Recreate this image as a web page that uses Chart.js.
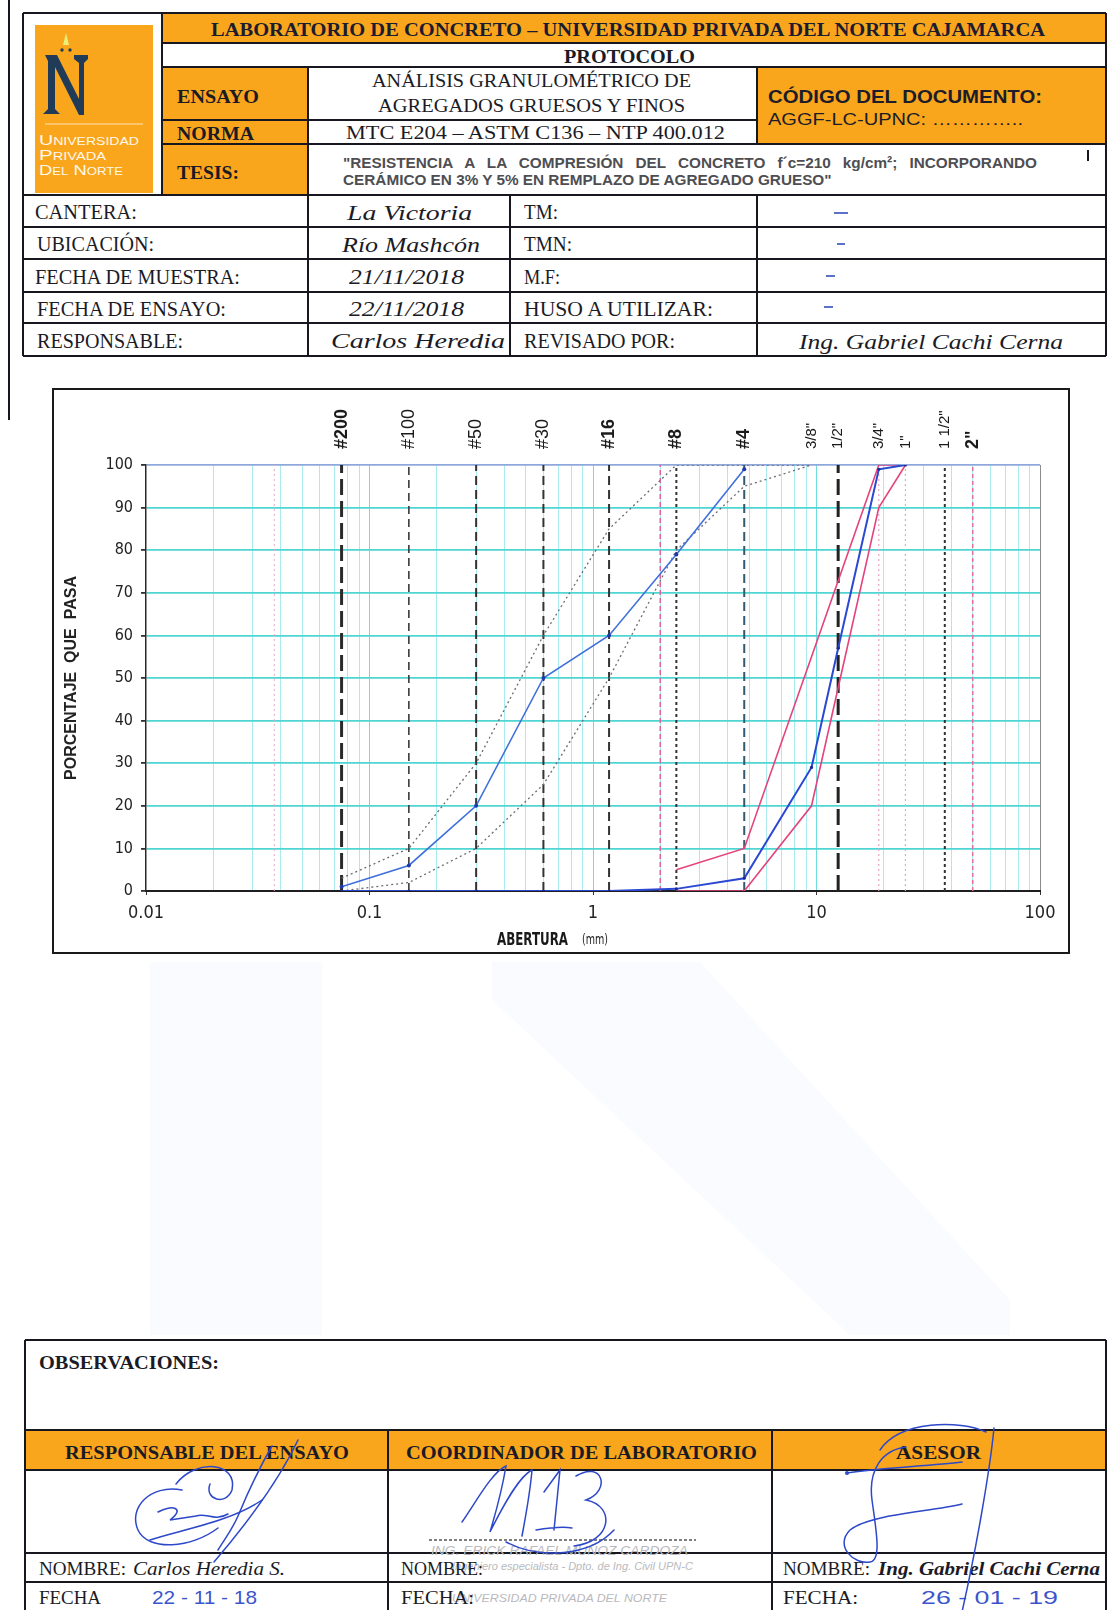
<!DOCTYPE html>
<html>
<head>
<meta charset="utf-8">
<title>Análisis granulométrico – Protocolo</title>
<script src="https://cdn.jsdelivr.net/npm/chart.js@4.4.1/dist/chart.umd.min.js"></script>
<style>
  html, body { margin: 0; padding: 0; background: #fff; }
  #page { position: relative; width: 1110px; height: 1610px; overflow: hidden; background: #fff; }
  .t { position: absolute; white-space: nowrap; line-height: 1; transform-origin: 0 50%; }
  .ln { position: absolute; background: #17171f; }
  .fill { position: absolute; }
  #marco { position: absolute; left: 52px; top: 388px; width: 1018px; height: 566px; box-sizing: border-box; border: 2.5px solid #1a1a1a; }
  #grafico { position: absolute; left: 54px; top: 390px; }
  .just { position: absolute; white-space: nowrap; text-align: justify; text-align-last: justify; line-height: 1; overflow: visible; }
</style>
</head>
<body>
<div id="page">
  <svg id="marcaAgua" width="1110" height="1610" style="position:absolute;left:0;top:0">
    <polygon points="150,962 322,962 322,1335 150,1335" fill="#f9fbfe"/>
    <polygon points="492,962 700,962 1010,1300 1010,1335 850,1335 492,1000" fill="#f9fbfe"/>
  </svg>
  <div id="marco"></div>
  <canvas id="grafico" width="1014" height="561"></canvas>
</div>
<script>
// ---- Curva granulométrica: aberturas de tamiz (mm) y % que pasa ----
const aberturas     = [0.075, 0.15, 0.3, 0.6, 1.18, 2.36, 4.75, 9.5, 12.5, 19, 25];
const pasaFino      = [1, 6, 20, 50, 60, 79, 99, null, null, null, null];
const pasaGrueso    = [0, 0, 0, 0, 0, 0.5, 3, 29, 57, 99, 100];
const finoLimSup    = [3, 10, 30, 60, 85, 100, 100, 100, null, null, null];
const finoLimInf    = [0, 2, 10, 25, 50, 80, 95, 100, null, null, null];
const gruesoLimSup  = [null, null, null, null, null, 5, 10, 55, null, 100, 100];
const gruesoLimInf  = [null, null, null, null, null, 0, 0, 20, null, 90, 100];

// Tamices rotulados en la parte superior
const tamices  = ['#200', '#100', '#50', '#30', '#16', '#8', '#4', '3/8"', '1/2"', '3/4"', '1"', '1 1/2"', '2"'];
const tamizMm  = [0.075, 0.15, 0.3, 0.6, 1.18, 2.36, 4.75, 9.5, 12.5, 19, 25, 37.5, 50];

// Líneas verticales de referencia (mm)
const lineasRefMm = [0.0375, 0.075, 0.15, 0.3, 0.6, 1.18, 2.0, 2.36, 4.75, 12.5, 19, 25, 37.5, 50];

// Etiquetas de los ejes
const ejeXEtiquetas = [0.01, 0.1, 1, 10, 100];
const ejeYEtiquetas = [0, 10, 20, 30, 40, 50, 60, 70, 80, 90, 100];
const tituloEjeY = 'PORCENTAJE  QUE  PASA';

// ---------------- Documento ----------------
const page = document.getElementById('page');
const INK = '#1b1b26';
const SERIF = "'Liberation Serif', 'Times New Roman', serif";
const SANS = "'Liberation Sans', Arial, sans-serif";
const NARROW = "'Liberation Sans Narrow', 'Arial Narrow', 'DejaVu Sans Condensed', sans-serif";
const ORANGE = '#F9A61C';

function fill(x, y, w, h, c) {
  const d = document.createElement('div');
  d.className = 'fill';
  Object.assign(d.style, { left: x + 'px', top: y + 'px', width: w + 'px', height: h + 'px', background: c });
  page.insertBefore(d, document.getElementById('marco'));
}
function hl(x1, x2, y, w = 2) {
  const d = document.createElement('div');
  d.className = 'ln';
  Object.assign(d.style, { left: x1 + 'px', top: (y - w / 2) + 'px', width: (x2 - x1) + 'px', height: w + 'px' });
  page.appendChild(d);
}
function vl(x, y1, y2, w = 2) {
  const d = document.createElement('div');
  d.className = 'ln';
  Object.assign(d.style, { left: (x - w / 2) + 'px', top: y1 + 'px', width: w + 'px', height: (y2 - y1) + 'px' });
  page.appendChild(d);
}
function txt(s, o) {
  const el = document.createElement('div');
  el.className = 't';
  el.textContent = s;
  el.style.font = o.font;
  el.style.color = o.color || INK;
  page.appendChild(el);
  const nat = el.getBoundingClientRect().width;
  const size = parseFloat(o.font.match(/(\d+(?:\.\d+)?)px/)[1]);
  const sx = o.w ? o.w / nat : 1;
  const w = nat * sx;
  const left = (o.cx !== undefined) ? o.cx - w / 2 : o.x;
  el.style.left = left + 'px';
  el.style.top = (o.cy - size / 2) + 'px';
  if (Math.abs(sx - 1) > 0.002) el.style.transform = 'scaleX(' + sx.toFixed(4) + ')';
  return el;
}

// Fondos naranjas
fill(162, 13, 944, 30, ORANGE);
fill(162, 67, 146, 128, ORANGE);
fill(757, 67, 349, 77, ORANGE);
fill(25, 1430, 1081, 40, ORANGE);

// Borde del papel a la izquierda
vl(9, 0, 420, 2.5);

// Cuadro de cabecera
hl(23, 1106, 13, 2.5); hl(23, 1106, 356, 2.5);
vl(23, 13, 356, 2.5); vl(1106, 13, 356, 2.5);
hl(162, 1106, 43); hl(162, 1106, 67); hl(162, 757, 120); hl(162, 1106, 144);
hl(23, 1106, 195); hl(23, 1106, 227); hl(23, 1106, 259); hl(23, 1106, 292); hl(23, 1106, 323);
vl(162, 13, 195); vl(308, 67, 356); vl(757, 67, 144); vl(757, 195, 356); vl(510, 195, 356);

// Logotipo
const logo = document.createElementNS('http://www.w3.org/2000/svg', 'svg');
logo.setAttribute('width', '118'); logo.setAttribute('height', '168');
logo.style.position = 'absolute'; logo.style.left = '35px'; logo.style.top = '25px';
logo.innerHTML =
  '<rect width="118" height="168" fill="' + ORANGE + '"/>' +
  '<polygon points="31,8 34,20 28,20" fill="#e8f07a"/>' +
  '<circle cx="27" cy="25" r="1.7" fill="#1f3b57"/><circle cx="35" cy="25" r="1.7" fill="#1f3b57"/>' +
  '<path d="M10,30 L22,30 L44,74 L44,38 L39,34 L39,30 L53,30 L53,34 L49,38 L49,90 L44,90 L20,42 L20,84 L25,89 L8,89 L13,84 L13,36 Z" fill="#1f3b57"/>' +
  '<line x1="10" y1="99" x2="108" y2="99" stroke="#fde3b4" stroke-width="1"/>';
page.appendChild(logo);
const fLogo = "small-caps 14px " + SANS;
txt('Universidad', { x: 39, cy: 139, w: 100, font: fLogo, color: '#fff8ec' });
txt('Privada', { x: 39, cy: 154, w: 67, font: fLogo, color: '#fff8ec' });
txt('Del Norte', { x: 39, cy: 169, w: 84, font: fLogo, color: '#fff8ec' });

// Textos de cabecera
const fSB = 'bold 19px ' + SERIF, fS = '18px ' + SERIF, fSL = '20px ' + SERIF, fSI = 'italic 21px ' + SERIF;
txt('LABORATORIO DE CONCRETO – UNIVERSIDAD PRIVADA DEL NORTE CAJAMARCA', { x: 211, cy: 28, w: 834, font: fSB, color: '#1c1c30' });
txt('PROTOCOLO', { cx: 629, cy: 55, w: 131, font: fSB });
txt('ENSAYO', { x: 177, cy: 95, w: 82, font: fSB });
txt('ANÁLISIS GRANULOMÉTRICO DE', { cx: 531, cy: 80, w: 319, font: fS });
txt('AGREGADOS GRUESOS Y FINOS', { cx: 531, cy: 105, w: 307, font: fS });
txt('CÓDIGO DEL DOCUMENTO:', { x: 768, cy: 95, w: 274, font: 'bold 19px ' + SANS, color: '#1c1c2a' });
txt('AGGF-LC-UPNC: …………..', { x: 768, cy: 119, w: 255, font: '16px ' + SANS, color: '#1c1c2a' });
txt('NORMA', { x: 177, cy: 132, w: 77, font: fSB });
txt('MTC E204 – ASTM C136 – NTP 400.012', { x: 346, cy: 132, w: 379, font: fS });
txt('TESIS:', { x: 177, cy: 171, w: 62, font: fSB });

// Título de la tesis: la segunda línea fija el cuerpo de letra, la primera va justificada
const tes2 = txt('CERÁMICO EN 3% Y 5% EN REMPLAZO DE AGREGADO GRUESO"', { x: 343, cy: 179, font: 'bold 13px ' + SANS, color: '#4e4e52' });
const tamTes = 13 * 489 / tes2.getBoundingClientRect().width;
tes2.style.fontSize = tamTes + 'px';
tes2.style.top = (179 - tamTes / 2) + 'px';
const tes1 = document.createElement('div');
tes1.className = 'just';
tes1.textContent = '"RESISTENCIA A LA COMPRESIÓN DEL CONCRETO f´c=210 kg/cm²; INCORPORANDO';
Object.assign(tes1.style, { left: '343px', top: (162 - tamTes / 2) + 'px', width: '694px', font: 'bold ' + tamTes + 'px ' + SANS, color: '#4e4e52' });
page.appendChild(tes1);
vl(1088, 150, 161, 1.3);

// Datos de la muestra
const filas = [211, 243, 275.5, 307.5, 339.5];
const rotIzq = [['CANTERA:', 102, 35], ['UBICACIÓN:', 117, 37], ['FECHA DE MUESTRA:', 205, 35], ['FECHA DE ENSAYO:', 189, 37], ['RESPONSABLE:', 146, 37]];
const valIzq = [['La Victoria', 409, 125], ['Río Mashcón', 411, 138], ['21/11/2018', 406, 115], ['22/11/2018', 406, 115], ['Carlos Heredia', 418, 174]];
const rotDer = [['TM:', 34], ['TMN:', 48], ['M.F:', 36], ['HUSO A UTILIZAR:', 189], ['REVISADO POR:', 151]];
filas.forEach((cy, i) => {
  txt(rotIzq[i][0], { x: rotIzq[i][2], cy, w: rotIzq[i][1], font: fSL });
  txt(valIzq[i][0], { cx: valIzq[i][1], cy, w: valIzq[i][2], font: fSI });
  txt(rotDer[i][0], { x: 524, cy, w: rotDer[i][1], font: fSL });
});
txt('Ing. Gabriel Cachi Cerna', { cx: 931, cy: 339.5, w: 264, font: 'italic 22px ' + SERIF });
[[834, 212, 14], [837, 243, 8], [826, 275, 9], [824, 306, 9]].forEach(([x, y, w]) => {
  const d = document.createElement('div');
  Object.assign(d.style, { position: 'absolute', left: x + 'px', top: y + 'px', width: w + 'px', height: '2px', background: '#5b70c8' });
  page.appendChild(d);
});

// Título del eje X
txt('ABERTURA', { x: 497, cy: 937, w: 71, font: 'bold 17px ' + NARROW, color: '#1a1a1a' });
txt('(mm)', { x: 582, cy: 938, w: 26, font: '14px ' + NARROW, color: '#1a1a1a' });

// Cuadro inferior: observaciones y firmas
hl(25, 1106, 1340, 2.5); vl(25, 1340, 1612, 2.5); vl(1106, 1340, 1612, 2.5);
hl(25, 1106, 1430); hl(25, 1106, 1470); hl(25, 1106, 1553); hl(25, 1106, 1582);
vl(388, 1430, 1612); vl(772, 1430, 1612);
txt('OBSERVACIONES:', { x: 39, cy: 1361, w: 180, font: fSB });
txt('RESPONSABLE DEL ENSAYO', { x: 65, cy: 1451, w: 284, font: fSB });
txt('COORDINADOR DE LABORATORIO', { x: 406, cy: 1451, w: 351, font: fSB });
txt('ASESOR', { x: 896, cy: 1451, w: 85, font: fSB });

// Sello del coordinador (tenue)
const gris = '#b9b9bd';
txt('ING. ERICK RAFAEL MUÑOZ CARDOZA', { x: 431, cy: 1549, w: 257, font: 'italic 13px ' + SANS, color: gris });
txt('Ingeniero especialista - Dpto. de Ing. Civil UPN-C', { x: 452, cy: 1565, w: 241, font: 'italic 11px ' + SANS, color: gris });
txt('UNIVERSIDAD PRIVADA DEL NORTE', { x: 452, cy: 1597, w: 215, font: 'italic 11px ' + SANS, color: gris });

const fN = '18px ' + SERIF, fNI = 'italic 18px ' + SERIF;
txt('NOMBRE:', { x: 39, cy: 1568, w: 87, font: fN });
txt('Carlos Heredia S.', { x: 133, cy: 1568, w: 152, font: fNI });
txt('NOMBRE:', { x: 401, cy: 1568, w: 82, font: fN });
txt('NOMBRE:', { x: 783, cy: 1568, w: 87, font: fN });
txt('Ing. Gabriel Cachi Cerna', { x: 878, cy: 1568, w: 222, font: 'italic bold 18px ' + SERIF });
txt('FECHA', { x: 39, cy: 1597, w: 62, font: fN });
txt('FECHA:', { x: 401, cy: 1597, w: 73, font: fN });
txt('FECHA:', { x: 783, cy: 1597, w: 75, font: fN });
txt('22 - 11 - 18', { x: 152, cy: 1596, w: 105, font: '19px ' + SANS, color: '#3d55cc' });
txt('26 - 01 - 19', { x: 921, cy: 1596, w: 137, font: '19px ' + SANS, color: '#3d55cc' });

// Firmas manuscritas y línea punteada del coordinador
const firmas = document.createElementNS('http://www.w3.org/2000/svg', 'svg');
firmas.setAttribute('width', '1110'); firmas.setAttribute('height', '1610');
Object.assign(firmas.style, { position: 'absolute', left: '0', top: '0', pointerEvents: 'none' });
firmas.innerHTML =
  '<line x1="429" y1="1540" x2="696" y2="1540" stroke="#555" stroke-width="1.3" stroke-dasharray="3,2"/>' +
  '<g fill="none" stroke="#2d48c8" stroke-width="1.5" stroke-linecap="round">' +
  '<path d="M182,1490 C150,1484 128,1508 138,1530 C148,1552 192,1548 218,1528"/>' +
  '<path d="M176,1484 C196,1458 238,1462 232,1490 C226,1506 204,1500 210,1484"/>' +
  '<path d="M158,1512 C172,1504 186,1508 170,1520 L196,1516 C206,1512 214,1522 228,1514"/>' +
  '<path d="M298,1440 C280,1478 250,1520 214,1562"/>' +
  '<path d="M272,1446 C258,1470 248,1492 238,1516 C232,1530 224,1540 218,1550"/>' +
  '<path d="M150,1540 C180,1530 230,1522 262,1500"/>' +
  '<path d="M462,1522 C476,1502 492,1472 506,1466 C502,1490 496,1512 490,1532 C506,1500 520,1476 532,1470 C530,1494 526,1514 522,1536"/>' +
  '<path d="M544,1492 L560,1470 L554,1530 M536,1530 C548,1528 560,1526 572,1528"/>' +
  '<path d="M576,1476 C602,1460 612,1490 586,1500 C616,1506 612,1542 574,1546"/>' +
  '<path d="M506,1542 C540,1560 590,1556 614,1530"/>' +
  '<path d="M847,1473 C880,1468 930,1466 962,1462"/>' +
  '<path d="M906,1447 C882,1450 868,1470 872,1500 C876,1530 882,1560 870,1562 C854,1565 834,1546 850,1530 C870,1514 930,1512 962,1504"/>' +
  '<path d="M880,1450 C900,1420 960,1420 986,1432"/>' +
  '<path d="M994,1428 C990,1470 976,1550 962,1612"/>' +
  '</g><circle cx="847" cy="1473" r="2" fill="#2d48c8"/>';
page.appendChild(firmas);

// ---------------- Gráfico ----------------
const puntos = vals => aberturas.map((x, i) => ({ x, y: vals[i] })).filter(p => p.y !== null);

const estiloRef = [
  { c: '#eaa8c8', d: [2, 3], w: 1 },
  { c: '#2a2a2a', d: [16, 6], w: 3 },
  { c: '#3a3a3a', d: [8, 5], w: 1.6 },
  { c: '#333333', d: [9, 5], w: 2 },
  { c: '#333333', d: [9, 5], w: 2 },
  { c: '#333333', d: [9, 5], w: 2 },
  { c: '#e0609a', d: [5, 3], w: 1.5 },
  { c: '#333333', d: [3, 3], w: 2 },
  { c: '#335a70', d: [9, 5], w: 2 },
  { c: '#222222', d: [16, 6], w: 3 },
  { c: '#eaa2c8', d: [2, 3], w: 1.2 },
  { c: '#bdbdbd', d: [2, 3], w: 1.2 },
  { c: '#333333', d: [3, 3], w: 2 },
  { c: '#e070a0', d: [4, 3], w: 1.5 }
];

const dsRef = lineasRefMm.map((mm, i) => ({
  data: [{ x: mm, y: ejeYEtiquetas[0] }, { x: mm, y: ejeYEtiquetas[ejeYEtiquetas.length - 1] }],
  borderColor: estiloRef[i].c, borderDash: estiloRef[i].d, borderWidth: estiloRef[i].w,
  pointRadius: 0, order: 10
}));

const datasets = [
  ...dsRef,
  { data: puntos(finoLimSup), borderColor: '#6b6b74', borderDash: [2, 3], borderWidth: 1.3, pointRadius: 0, order: 4 },
  { data: puntos(finoLimInf), borderColor: '#6b6b74', borderDash: [2, 3], borderWidth: 1.3, pointRadius: 0, order: 4 },
  { data: puntos(gruesoLimSup), borderColor: '#e4437c', borderWidth: 1.6, pointRadius: 0, order: 3 },
  { data: puntos(gruesoLimInf), borderColor: '#e4437c', borderWidth: 1.6, pointRadius: 0, order: 3 },
  { data: puntos(pasaGrueso), borderColor: '#2a48d2', borderWidth: 2, pointRadius: 1.6, pointBackgroundColor: '#1a2a90', pointBorderWidth: 0, order: 1 },
  { data: puntos(pasaFino), borderColor: '#3f70dc', borderWidth: 1.6, pointRadius: 2, pointBackgroundColor: '#1e3aa8', pointBorderWidth: 0, order: 1 }
];

// Marcas de la rejilla logarítmica (1..9 por década)
const rejillaX = [];
for (let e = -2; e <= 1; e++) for (let m = 1; m <= 9; m++) rejillaX.push(+(m * Math.pow(10, e)).toPrecision(3));
rejillaX.push(100);
const esDecada = v => ejeXEtiquetas.some(d => Math.abs(d - v) < 1e-9);

// Rótulos de tamices sobre el área del gráfico
const negrita = ['#200', '#16', '#8', '#4', '2"'];
const rotulosTamiz = {
  id: 'rotulosTamiz',
  afterDraw(chart) {
    const { ctx, chartArea, scales } = chart;
    tamizMm.forEach((mm, i) => {
      const px = scales.x.getPixelForValue(mm);
      const lab = tamices[i];
      const esNum = lab.startsWith('#') || lab === '2"';
      ctx.save();
      ctx.translate(px, chartArea.top - 16);
      ctx.rotate(-Math.PI / 2);
      ctx.font = (negrita.includes(lab) ? 'bold ' : '') + (esNum ? '18px ' : '15px ') + SANS;
      ctx.fillStyle = '#1a1a1a';
      ctx.textAlign = 'left';
      ctx.textBaseline = 'middle';
      ctx.fillText(lab, 0, 0);
      ctx.restore();
    });
  }
};

new Chart(document.getElementById('grafico'), {
  type: 'line',
  data: { datasets },
  plugins: [rotulosTamiz],
  options: {
    responsive: false,
    animation: false,
    events: [],
    layout: { padding: { top: 75, right: 28, left: 0, bottom: 0 } },
    plugins: { legend: { display: false }, tooltip: { enabled: false } },
    elements: { line: { tension: 0, fill: false } },
    scales: {
      x: {
        type: 'logarithmic',
        min: ejeXEtiquetas[0],
        max: ejeXEtiquetas[ejeXEtiquetas.length - 1],
        afterBuildTicks: s => { s.ticks = rejillaX.map(v => ({ value: v })); },
        afterFit: s => { s.height = 60; s.paddingLeft = 0; s.paddingRight = 0; },
        ticks: {
          autoSkip: false, maxRotation: 0, minRotation: 0, padding: 8,
          color: '#222',
          font: { family: NARROW, size: 18 },
          callback: v => esDecada(v) ? String(v) : ''
        },
        grid: {
          drawTicks: true, tickLength: 4,
          lineWidth: 1,
          color: c => {
            const v = c.tick ? c.tick.value : 0;
            if (Math.abs(v - 0.01) < 1e-9) return 'rgba(0,0,0,0)';
            if (Math.abs(v - 100) < 1e-9) return '#8c8c8c';
            return esDecada(v) ? '#6fdcdf' : '#a9eaee';
          },
          tickColor: c => (c.tick && esDecada(c.tick.value)) ? '#333' : 'rgba(0,0,0,0)'
        },
        border: { color: '#1e1e1e', width: 2 }
      },
      y: {
        type: 'linear',
        min: ejeYEtiquetas[0],
        max: ejeYEtiquetas[ejeYEtiquetas.length - 1],
        afterBuildTicks: s => { s.ticks = ejeYEtiquetas.map(v => ({ value: v })); },
        afterFit: s => { s.width = 92; s.paddingTop = 0; s.paddingBottom = 0; },
        ticks: { padding: 8, color: '#222', font: { family: NARROW, size: 16 } },
        grid: {
          drawTicks: true, tickLength: 5, tickColor: '#333',
          lineWidth: 1.8,
          color: c => {
            const v = c.tick ? c.tick.value : 0;
            if (v === 0) return 'rgba(0,0,0,0)';
            if (v === 100) return '#8fa8dc';
            return '#4fd5d3';
          }
        },
        border: { color: '#2a2a2a', width: 1.5 },
        title: {
          display: true, text: tituloEjeY, color: '#222',
          font: { family: SANS, size: 16, weight: 'bold' },
          padding: { top: 8, bottom: 0 }
        }
      }
    }
  }
});
</script>
</body>
</html>
